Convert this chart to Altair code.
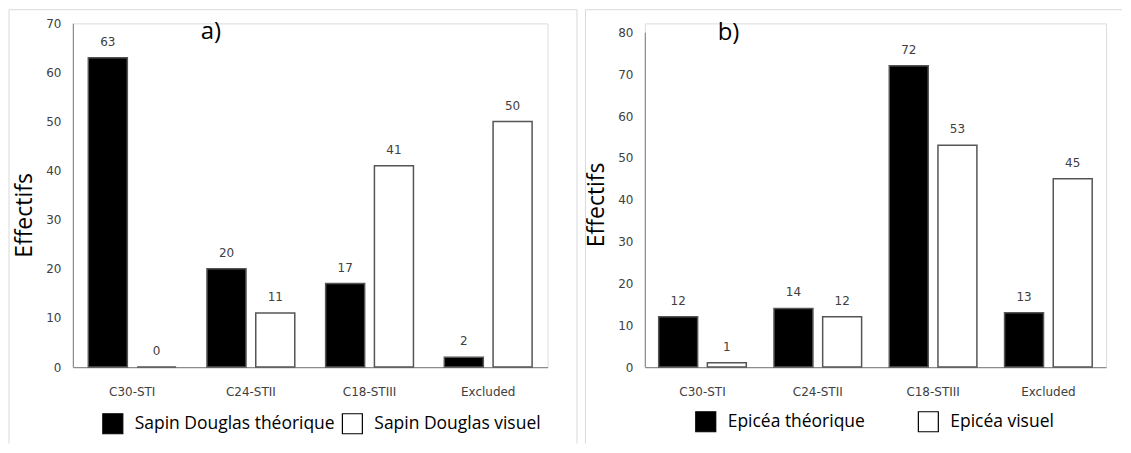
import altair as alt
import pandas as pd

categories = ["C30-STI", "C24-STII", "C18-STIII", "Excluded"]

douglas_series = ["Sapin Douglas théorique", "Sapin Douglas visuel"]
douglas_theorique = [63, 20, 17, 2]
douglas_visuel = [0, 11, 41, 50]

epicea_series = ["Epicéa théorique", "Epicéa visuel"]
epicea_theorique = [12, 14, 72, 13]
epicea_visuel = [1, 12, 53, 45]

y_title = "Effectifs"
panel_labels = ["a)", "b)"]
y_max = [70, 80]


def make_df(series, first, second):
    rows = []
    for c, v in zip(categories, first):
        rows.append({"cat": c, "serie": series[0], "value": v})
    for c, v in zip(categories, second):
        rows.append({"cat": c, "serie": series[1], "value": v})
    return pd.DataFrame(rows)


one = pd.DataFrame({"k": [0]})
FRAME = "#d9d9d9"
TICK = "#404040"
H = 344.3


def panel(df, series, ymax, W, y_range, pin, pout, title_y, frame_left,
          frame_right, frame_top, frame_bottom, draw_right, label, label_x,
          label_y, legend_x, legend_y, col_pad):
    x = alt.X("cat:N", sort=categories,
              scale=alt.Scale(type="band", paddingInner=pin, paddingOuter=pout),
              axis=alt.Axis(title=None, labelAngle=0, ticks=False, tickSize=0,
                            domainColor="#8c8c8c", domainWidth=1.2,
                            labelFont="DejaVu Sans", labelFontSize=12,
                            labelColor=TICK, labelPadding=20))
    y = alt.Y("value:Q",
              scale=alt.Scale(domain=[0, ymax], nice=False, range=y_range),
              axis=alt.Axis(values=list(range(0, ymax + 1, 10)), title=y_title,
                            grid=False, ticks=False, tickSize=0,
                            domainColor="#8c8c8c", domainWidth=1.2,
                            labelFont="DejaVu Sans", labelFontSize=12,
                            labelColor=TICK, labelPadding=12,
                            titleFont="Open Sans", titleFontSize=23,
                            titleFontWeight="normal", titleColor="black",
                            titleAngle=270, titleAlign="center",
                            titleBaseline="middle", titleX=-48, titleY=title_y))
    xo = alt.XOffset("serie:N", sort=series,
                     scale=alt.Scale(type="band", domain=series,
                                     paddingInner=0.2, paddingOuter=0))
    color = alt.Color("serie:N", sort=series,
                      scale=alt.Scale(domain=series, range=["black", "white"]),
                      legend=alt.Legend(title=None, orient="none",
                                        legendX=legend_x, legendY=legend_y,
                                        direction="horizontal",
                                        symbolType="square", symbolSize=400,
                                        symbolStrokeColor="black",
                                        symbolStrokeWidth=1.2,
                                        labelFont="Open Sans", labelFontSize=17.5,
                                        labelColor="black", labelOffset=11,
                                        labelLimit=400, columnPadding=col_pad,
                                        padding=0))
    base = alt.Chart(df)
    bars = base.mark_bar(stroke="#555555", strokeWidth=1.5).encode(
        x=x, y=y, xOffset=xo, color=color)
    texts = base.mark_text(dy=-16, baseline="middle", font="DejaVu Sans",
                           fontSize=12, color=TICK).encode(
        x=x, y=y, xOffset=xo, text="value:Q")

    deco = alt.Chart(one)
    top = deco.mark_rule(color=FRAME, strokeWidth=1).encode(
        x=alt.value(frame_left), x2=alt.value(frame_right),
        y=alt.value(frame_top))
    left = deco.mark_rule(color=FRAME, strokeWidth=1).encode(
        x=alt.value(frame_left), y=alt.value(frame_top),
        y2=alt.value(frame_bottom))
    layers = [top, left]
    if draw_right:
        right = deco.mark_rule(color=FRAME, strokeWidth=1).encode(
            x=alt.value(frame_right), y=alt.value(frame_top),
            y2=alt.value(frame_bottom))
        layers.append(right)
    lab = deco.mark_text(text=label, font="Open Sans", fontSize=24,
                         align="left", baseline="alphabetic",
                         color="black").encode(
        x=alt.value(label_x), y=alt.value(label_y))
    layers.append(lab)
    return alt.layer(*layers, bars, texts).properties(width=W, height=H)


df_a = make_df(douglas_series, douglas_theorique, douglas_visuel)
df_b = make_df(epicea_series, epicea_theorique, epicea_visuel)

pa = panel(df_a, douglas_series, y_max[0], 475.5, [H, 0], 0.26, 0.13,
           192, -64, 505, -13.7, 421, True, panel_labels[0], 128, 16,
           29, 389.8, 4)
pb = panel(df_b, epicea_series, y_max[1], 462, [H, 9], 0.24, 0.12,
           181.3, -59.5, 478, -13.7, 421, False, panel_labels[1], 73, 17,
           50, 387.8, 50)

chart = alt.hconcat(pa, pb, spacing=6).resolve_scale(
    color="independent", xOffset="independent", x="independent",
    y="independent").resolve_legend(color="independent").configure_view(
    stroke=None).configure(padding=0)

chart.save("out.html", embed_options={"renderer": "svg", "actions": False})
